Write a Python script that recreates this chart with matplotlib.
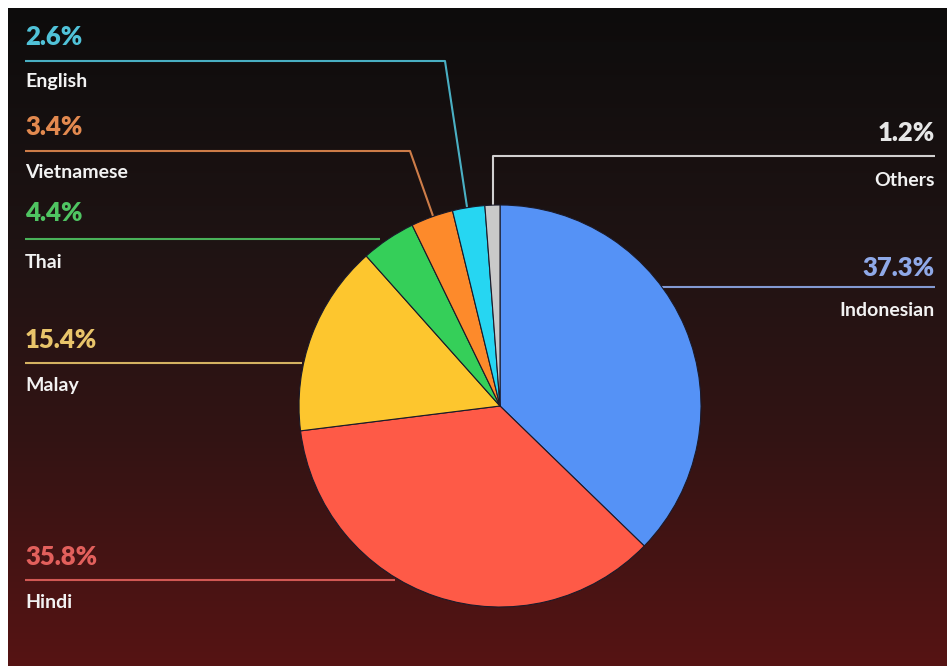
"""Language share pie chart on a dark red backdrop, saved to out.png."""
import matplotlib

matplotlib.use("Agg")
import matplotlib.pyplot as plt  # noqa: E402
import numpy as np  # noqa: E402
from matplotlib.colors import LinearSegmentedColormap  # noqa: E402

languages = ["Indonesian", "Hindi", "Malay", "Thai", "Vietnamese", "English", "Others"]
shares = [37.3, 35.8, 15.4, 4.4, 3.4, 2.6, 1.2]
slice_colors = ["#5592f6", "#fe5a47", "#fdc62e", "#35cf59", "#fd8a2b", "#26d6f2", "#c9c9c9"]
label_colors = ["#8fa9e8", "#e2605c", "#e8c46a", "#4fc462", "#e2894f", "#50c2d8", "#e6e6e6"]

W, H = 947, 666


def py(y):
    # image pixel row -> data y (y axis points up)
    return H - y


def label(ax, x, y_pct, y_line, y_name, pct, name, color, ha, path):
    ax.text(x, py(y_pct), pct, color=color, fontsize=18.5, weight="heavy",
            ha=ha, va="center", family="Lato")
    ax.text(x, py(y_name), name, color="#f2f2f2", fontsize=14, weight="bold",
            ha=ha, va="center", family="Lato")
    xs = [x] + [p[0] for p in path]
    ys = [py(y_line)] + [py(p[1]) for p in path]
    ax.plot(xs, ys, color=color, lw=1.5, alpha=0.9, zorder=1, solid_capstyle="butt")


def main():
    fig = plt.figure(figsize=(W / 100, H / 100), dpi=100)
    fig.patch.set_facecolor("white")
    ax = fig.add_axes([0, 0, 1, 1])

    # background gradient: near black at top -> dark red at bottom
    cmap = LinearSegmentedColormap.from_list(
        "bg", [(0, "#0d0c0c"), (0.35, "#1e1313"), (0.65, "#321414"), (1, "#561313")])
    grad = np.linspace(0, 1, 256).reshape(-1, 1)
    ax.imshow(grad, cmap=cmap, extent=[8, W, 0, H - 8], origin="upper",
              aspect="auto", zorder=0)

    cx, cy, r = 500, py(406), 201
    ax.pie(shares, colors=slice_colors, startangle=90, counterclock=False,
           center=(cx, cy), radius=r, frame=True,
           wedgeprops=dict(edgecolor="#1a1a2a", linewidth=0.8, zorder=2))
    ax.set_xlim(0, W)
    ax.set_ylim(0, H)
    ax.set_aspect("auto")
    ax.axis("off")

    # left side labels
    label(ax, 25, 37, 61, 82, f"{shares[5]}%", languages[5], label_colors[5], "left",
          [(445, 61), (467, 207)])
    label(ax, 25, 127, 151, 172, f"{shares[4]}%", languages[4], label_colors[4], "left",
          [(410, 151), (433, 216)])
    label(ax, 25, 213, 239, 262, f"{shares[3]}%", languages[3], label_colors[3], "left",
          [(380, 239)])
    label(ax, 25, 340, 363, 385, f"{shares[2]}%", languages[2], label_colors[2], "left",
          [(302, 363)])
    label(ax, 25, 557, 580, 603, f"{shares[1]}%", languages[1], label_colors[1], "left",
          [(395, 580)])

    # right side labels
    label(ax, 935, 133, 156, 180, f"{shares[6]}%", languages[6], label_colors[6], "right",
          [(493, 156), (493, 206)])
    label(ax, 935, 268, 287, 310, f"{shares[0]}%", languages[0], label_colors[0], "right",
          [(662, 287)])

    fig.savefig("out.png", dpi=100, facecolor=fig.get_facecolor())


if __name__ == "__main__":
    main()
